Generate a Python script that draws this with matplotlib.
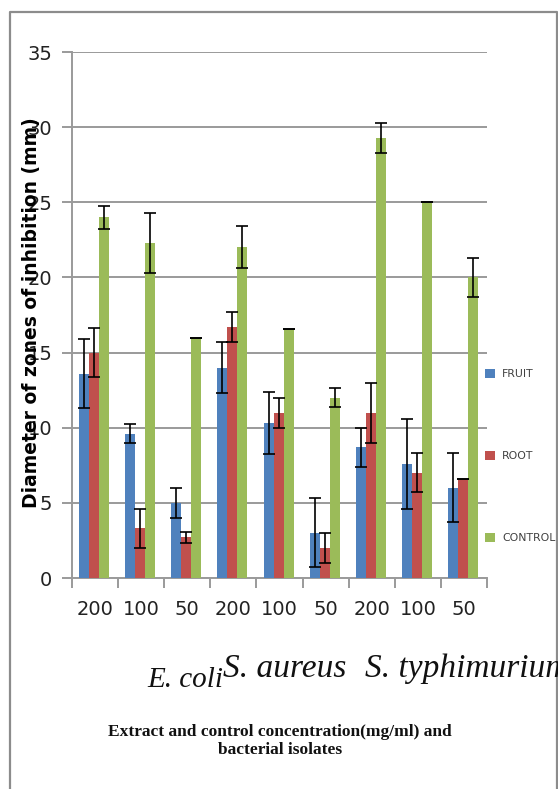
import matplotlib
matplotlib.use("Agg")
import matplotlib.pyplot as plt
from matplotlib.lines import Line2D
import numpy as np

concentrations = ["200", "100", "50", "200", "100", "50", "200", "100", "50"]
species = ["E. coli", "S. aureus", "S. typhimurium"]
series_names = ["FRUIT", "ROOT", "CONTROL"]
fruit = [13.6, 9.6, 5.0, 14.0, 10.3, 3.0, 8.7, 7.6, 6.0]
fruit_err = [2.3, 0.65, 1.0, 1.7, 2.05, 2.3, 1.3, 3.0, 2.3]
root = [15.0, 3.3, 2.7, 16.7, 11.0, 2.0, 11.0, 7.0, 6.6]
root_err = [1.65, 1.3, 0.35, 1.0, 1.0, 1.0, 2.0, 1.3, 0.0]
control = [24.0, 22.3, 16.0, 22.0, 16.6, 12.0, 29.3, 25.0, 20.0]
control_err = [0.75, 2.0, 0.0, 1.4, 0.0, 0.65, 1.0, 0.0, 1.3]
y_ticks = [0, 5, 10, 15, 20, 25, 30, 35]

colors = ["#4F81BD", "#C0504D", "#9BBB59"]
W, H = 558, 789
fig = plt.figure(figsize=(W / 100, H / 100), dpi=100)
ax = fig.add_axes([72 / W, (H - 578) / H, (487 - 72) / W, (578 - 52) / H])

x = np.arange(len(concentrations))
bw = 0.217
handles = []
for i, (vals, errs) in enumerate([(fruit, fruit_err), (root, root_err), (control, control_err)]):
    pos = x + (i - 1) * bw - 0.02
    b = ax.bar(pos, vals, width=bw, color=colors[i], label=series_names[i], zorder=3)
    handles.append(b)
    ax.errorbar(pos, vals, yerr=errs, fmt="none", ecolor="black", elinewidth=1.2,
                capsize=4.3, capthick=1.2, zorder=4)

ax.set_xlim(-0.5, len(concentrations) - 0.5)
ax.set_ylim(0, 35)
ax.set_yticks(y_ticks)
ax.set_yticklabels([str(t) for t in y_ticks])
ax.yaxis.grid(True, color="#9A9A9A", linewidth=1.4, zorder=0)
ax.set_axisbelow(True)
ax.set_xticks(x)
ax.set_xticklabels(concentrations)
ax.set_xticks(np.arange(-0.5, len(concentrations)), minor=True)
ax.tick_params(axis="x", which="major", length=0, pad=16, labelsize=14, labelcolor="#222222")
ax.tick_params(axis="x", which="minor", length=7.2, width=1.4, color="#9A9A9A")
ax.tick_params(axis="y", which="major", length=7.2, width=1.4, color="#9A9A9A",
               pad=7, labelsize=14, labelcolor="#222222")
for s in ["top", "right"]:
    ax.spines[s].set_visible(False)
for s in ["left", "bottom"]:
    ax.spines[s].set_color("#9A9A9A")
    ax.spines[s].set_linewidth(1.4)

fig.legend(handles=handles, labels=series_names, loc="upper left",
           bbox_to_anchor=(485 / W, 1 - 369 / H), frameon=False, fontsize=7.8,
           labelcolor="#404040", handlelength=0.96, handleheight=0.96,
           handletextpad=0.6, labelspacing=6.6, borderpad=0, borderaxespad=0)

fig.text(32 / W, 1 - 313 / H, "Diameter of zones of inhibition (mm)", rotation=90,
         ha="center", va="center", fontsize=13.5, fontweight="bold", color="black")

fig.text(147 / W, 1 - 687 / H, species[0], fontsize=21, style="italic",
         family="Liberation Serif", va="baseline", ha="left", color="#111111")
fig.text(223 / W, 1 - 677 / H, species[1], fontsize=24, style="italic",
         family="Liberation Serif", va="baseline", ha="left", color="#111111")
fig.text(365 / W, 1 - 677 / H, species[2], fontsize=24, style="italic",
         family="Liberation Serif", va="baseline", ha="left", color="#111111")

fig.text(280 / W, 1 - 741 / H, "Extract and control concentration(mg/ml) and\nbacterial isolates",
         ha="center", va="center", fontsize=12.5, fontweight="bold",
         family="Liberation Serif", linespacing=1.25, color="#111111")

border = Line2D([10 / W, 10 / W, 557 / W, 557 / W], [0, 1 - 12 / H, 1 - 12 / H, 0],
                transform=fig.transFigure, color="#8C8C8C", linewidth=1.6)
fig.add_artist(border)

fig.savefig("out.png", dpi=100)
